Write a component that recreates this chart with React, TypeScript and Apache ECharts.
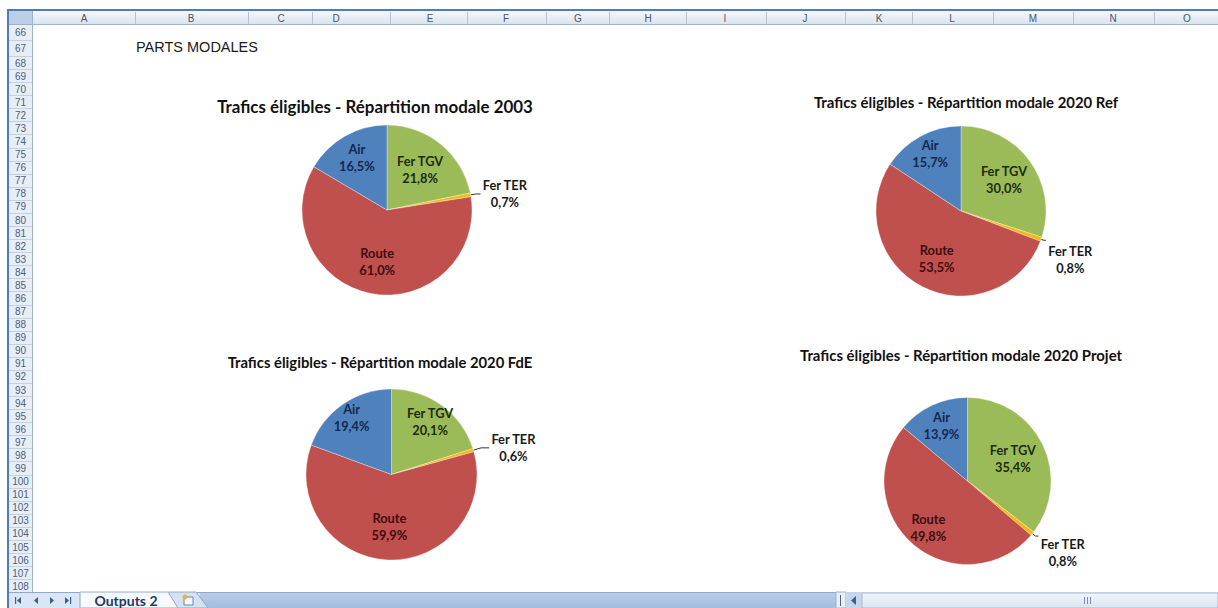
import React, { useEffect, useRef } from "react";
import * as echarts from "echarts";

// ---------------- data ----------------
const CATEGORIES = ["Fer TGV", "Fer TER", "Route", "Air"];
const SHARES_2003 = [21.8, 0.7, 61.0, 16.5];
const SHARES_2020_REF = [30.0, 0.8, 53.5, 15.7];
const SHARES_2020_FDE = [20.1, 0.6, 59.9, 19.4];
const SHARES_2020_PROJET = [35.4, 0.8, 49.8, 13.9];
const CHART_TITLES = [
  "Trafics éligibles - Répartition modale 2003",
  "Trafics éligibles - Répartition modale 2020 Ref",
  "Trafics éligibles - Répartition modale 2020 FdE",
  "Trafics éligibles - Répartition modale 2020 Projet",
];
const SHEET_HEADING = "PARTS MODALES";
const SHEET_TAB = "Outputs 2";
const COLUMN_LETTERS = ["A", "B", "C", "D", "E", "F", "G", "H", "I", "J", "K", "L", "M", "N", "O"];
const ROW_NUMBERS = [
  66, 67, 68, 69, 70, 71, 72, 73, 74, 75, 76, 77, 78, 79, 80, 81, 82, 83, 84, 85, 86, 87,
  88, 89, 90, 91, 92, 93, 94, 95, 96, 97, 98, 99, 100, 101, 102, 103, 104, 105, 106, 107, 108,
];
const ALL_SHARES = [SHARES_2003, SHARES_2020_REF, SHARES_2020_FDE, SHARES_2020_PROJET];

// ---------------- layout & style ----------------
const W = 1218;
const H = 608;
const SLICE_COLORS: Record<string, string> = {
  "Fer TGV": "#9BBB59",
  "Fer TER": "#F5B80E",
  Route: "#C0504D",
  Air: "#4F81BD",
};
const LABEL_COLORS: Record<string, string> = {
  "Fer TGV": "#1d2b10",
  "Fer TER": "#1a1a1a",
  Route: "#3d0d0d",
  Air: "#14284d",
};
const PIE_LAYOUT = [
  { cx: 387, cy: 210, r: 85, tx: 375, ty: 108, ts: 16.9, len: 5, len2: 5, dy: 0, ratio: { "Fer TGV": 0.58, Route: 0.58, Air: 0.68 } },
  { cx: 961, cy: 211, r: 85, tx: 966, ty: 104, ts: 14.9, len: 3, len2: 2, dy: 19, ratio: { "Fer TGV": 0.59, Route: 0.59, Air: 0.73 } },
  { cx: 391.5, cy: 474.5, r: 85.5, tx: 380, ty: 364, ts: 14.8, len: 8, len2: 8, dy: 0, ratio: { "Fer TGV": 0.73, Route: 0.57, Air: 0.78 } },
  { cx: 967.5, cy: 481, r: 83.5, tx: 961, ty: 357, ts: 14.9, len: 4, len2: 3, dy: 16, ratio: { "Fer TGV": 0.57, Route: 0.69, Air: 0.7 } },
];
const COL_BOUNDS = [32, 135, 248, 312, 390, 467, 546, 609, 686, 766, 845, 912, 993, 1073, 1154];
const COL_CENTERS = [84, 191, 281, 336, 430, 506, 578, 648, 725, 805, 879, 952, 1033, 1113, 1187];
const LABEL_FONT = "Lato";

const fmt = (v: number) => v.toFixed(1).replace(".", ",") + "%";

function buildGraphic() {
  const g: any[] = [];
  const headerGrad = {
    type: "linear", x: 0, y: 0, x2: 0, y2: 1,
    colorStops: [
      { offset: 0, color: "#f5f8fc" },
      { offset: 1, color: "#d9e3ef" },
    ],
  };
  // column header
  g.push({ type: "rect", shape: { x: 9, y: 11, width: W - 9, height: 13 }, style: { fill: headerGrad } });
  COL_BOUNDS.forEach((b) =>
    g.push({ type: "line", shape: { x1: b + 0.5, y1: 12, x2: b + 0.5, y2: 24 }, style: { stroke: "#b4c4d8", lineWidth: 1 } })
  );
  COLUMN_LETTERS.forEach((l, i) =>
    g.push({
      type: "text", x: COL_CENTERS[i], y: 18,
      style: { text: l, align: "center", verticalAlign: "middle", font: "10px 'Liberation Sans'", fill: "#4a5566" },
    })
  );
  g.push({ type: "line", shape: { x1: 9, y1: 24.5, x2: W, y2: 24.5 }, style: { stroke: "#9db3cd", lineWidth: 1 } });
  // corner
  g.push({ type: "rect", shape: { x: 9, y: 11, width: 23, height: 13 }, style: { fill: "#bccfe7" } });
  // row header
  g.push({ type: "rect", shape: { x: 9, y: 25, width: 23, height: 567 }, style: { fill: "#e7eef7" } });
  let y = 24;
  ROW_NUMBERS.forEach((n, i) => {
    const h = i < 2 ? 16 : 13.08;
    g.push({
      type: "text", x: 20.5, y: y + h / 2 + 0.5,
      style: { text: String(n), align: "center", verticalAlign: "middle", font: "10px 'Liberation Sans'", fill: "#4f6078" },
    });
    y += h;
    g.push({ type: "line", shape: { x1: 9, y1: Math.round(y) + 0.5, x2: 32, y2: Math.round(y) + 0.5 }, style: { stroke: "#c3d1e2", lineWidth: 1 } });
  });
  g.push({ type: "line", shape: { x1: 32.5, y1: 11, x2: 32.5, y2: 592 }, style: { stroke: "#9db3cd", lineWidth: 1 } });
  // frame border
  g.push({ type: "line", shape: { x1: 7, y1: 10, x2: W, y2: 10 }, style: { stroke: "#4d7cbc", lineWidth: 2 } });
  g.push({ type: "line", shape: { x1: 8, y1: 9, x2: 8, y2: H }, style: { stroke: "#4d7cbc", lineWidth: 2 } });
  // sheet heading
  g.push({
    type: "text", x: 136, y: 47,
    style: { text: SHEET_HEADING, align: "left", verticalAlign: "middle", font: "14.5px 'Liberation Sans'", fill: "#1a1a1a" },
  });
  // tab bar
  g.push({ type: "rect", shape: { x: 9, y: 592, width: W - 9, height: 16 }, style: { fill: "#dbe6f4" } });
  g.push({
    type: "rect", shape: { x: 200, y: 592, width: 636, height: 16 },
    style: {
      fill: { type: "linear", x: 0, y: 0, x2: 0, y2: 1, colorStops: [{ offset: 0, color: "#b9cde8" }, { offset: 1, color: "#a3bde0" }] },
    },
  });
  g.push({ type: "line", shape: { x1: 9, y1: 592.5, x2: 836, y2: 592.5 }, style: { stroke: "#8fa9cc", lineWidth: 1 } });
  // nav arrows
  const arrowColor = "#3d5f8f";
  g.push({ type: "rect", shape: { x: 15, y: 597, width: 1.2, height: 7 }, style: { fill: arrowColor } });
  g.push({ type: "polygon", shape: { points: [[17, 600.5], [21, 597], [21, 604]] }, style: { fill: arrowColor } });
  g.push({ type: "polygon", shape: { points: [[34, 600.5], [38, 597], [38, 604]] }, style: { fill: arrowColor } });
  g.push({ type: "polygon", shape: { points: [[54, 600.5], [50, 597], [50, 604]] }, style: { fill: arrowColor } });
  g.push({ type: "polygon", shape: { points: [[69, 600.5], [65, 597], [65, 604]] }, style: { fill: arrowColor } });
  g.push({ type: "rect", shape: { x: 70, y: 597, width: 1.2, height: 7 }, style: { fill: arrowColor } });
  // new sheet tab
  g.push({
    type: "polygon", shape: { points: [[168, 592], [196, 592], [208, 608], [176, 608]] },
    style: { fill: "#d6e2f2", stroke: "#8fa9cc", lineWidth: 1 },
  });
  g.push({ type: "rect", shape: { x: 184, y: 597, width: 9, height: 8 }, style: { fill: "#f6f8fb", stroke: "#6c86ab", lineWidth: 1 } });
  g.push({ type: "circle", shape: { cx: 185, cy: 597, r: 2.5 }, style: { fill: "#e8b34a" } });
  // active tab
  g.push({
    type: "polygon", shape: { points: [[80, 592], [168, 592], [178, 608], [80, 608]] },
    style: { fill: "#f7f9fc", stroke: "#8fa9cc", lineWidth: 1 },
  });
  g.push({
    type: "text", x: 126, y: 600,
    style: { text: SHEET_TAB, align: "center", verticalAlign: "middle", font: "bold 14px Lato", fill: "#1f3a63" },
  });
  // splitter + scroll bar
  g.push({ type: "rect", shape: { x: 836, y: 592, width: 10, height: 16 }, style: { fill: "#e9eff7", stroke: "#9fb3cc", lineWidth: 1 } });
  g.push({ type: "line", shape: { x1: 840.5, y1: 595, x2: 840.5, y2: 606 }, style: { stroke: "#50617a", lineWidth: 1 } });
  g.push({ type: "rect", shape: { x: 846, y: 592, width: 16, height: 16 }, style: { fill: "#c6d6eb" } });
  g.push({ type: "polygon", shape: { points: [[851, 600.5], [856, 596], [856, 605]] }, style: { fill: "#3d5f8f" } });
  g.push({
    type: "rect", shape: { x: 862, y: 593, width: W - 862, height: 15 },
    style: {
      fill: { type: "linear", x: 0, y: 0, x2: 0, y2: 1, colorStops: [{ offset: 0, color: "#f1f5fa" }, { offset: 1, color: "#dae4f0" }] },
      stroke: "#a9bbd2", lineWidth: 1,
    },
  });
  [1084, 1087, 1090].forEach((x) =>
    g.push({ type: "line", shape: { x1: x + 0.5, y1: 597, x2: x + 0.5, y2: 604 }, style: { stroke: "#7b8da6", lineWidth: 1 } })
  );
  return g;
}

function buildOption() {
  const series: any[] = [];
  const titles: any[] = [];
  PIE_LAYOUT.forEach((p, ci) => {
    const shares = ALL_SHARES[ci];
    titles.push({
      text: CHART_TITLES[ci],
      left: p.tx,
      top: p.ty - p.ts * 0.62,
      textAlign: "center",
      padding: 0,
      textStyle: { fontFamily: LABEL_FONT, fontWeight: "bold", fontSize: p.ts, color: "#111" },
    });
    // main pie (draws the slices and the outside Fer TER label)
    series.push({
      type: "pie",
      center: [p.cx, p.cy],
      radius: [0, p.r],
      startAngle: 90,
      clockwise: true,
      avoidLabelOverlap: false,
      silent: true,
      itemStyle: { borderColor: "rgba(255,255,255,0.55)", borderWidth: 0.6 },
      label: { show: false },
      labelLine: { show: false },
      labelLayout: p.dy ? { dy: p.dy } : undefined,
      data: CATEGORIES.map((c, i) => ({
        name: c,
        value: shares[i],
        itemStyle: { color: SLICE_COLORS[c] },
        label:
          c === "Fer TER"
            ? {
                show: true,
                position: "outside",
                distanceToLabelLine: 2,
                formatter: (q: any) => `{t|${q.name}}\n{t|${fmt(q.value)}}`,
                rich: {
                  t: { align: "center", fontFamily: LABEL_FONT, fontWeight: "bold", fontSize: 12.8, lineHeight: 17, color: LABEL_COLORS[c] },
                },
              }
            : { show: false },
        labelLine:
          c === "Fer TER"
            ? { show: true, length: p.len, length2: p.len2, smooth: false, lineStyle: { color: "#333", width: 1 } }
            : { show: false },
      })),
    });
    // transparent overlays carrying the inside labels
    (["Fer TGV", "Route", "Air"] as const).forEach((cat) => {
      const k = (p.ratio as any)[cat] as number;
      series.push({
        type: "pie",
        center: [p.cx, p.cy],
        radius: [p.r * (2 * k - 1), p.r],
        startAngle: 90,
        clockwise: true,
        silent: true,
        emphasis: { disabled: true },
        itemStyle: { color: "rgba(0,0,0,0)", borderWidth: 0 },
        labelLine: { show: false },
        data: CATEGORIES.map((c, i) => ({
          name: c,
          value: shares[i],
          label: {
            show: c === cat,
            position: "inside",
            formatter: (q: any) => `${q.name}\n${fmt(q.value)}`,
            fontFamily: LABEL_FONT,
            fontWeight: "bold",
            fontSize: 12.8,
            lineHeight: 17,
            color: LABEL_COLORS[c],
          },
        })),
      });
    });
  });
  return {
    animation: false,
    backgroundColor: "#ffffff",
    title: titles,
    graphic: { elements: buildGraphic() },
    series,
  };
}

export default function App() {
  const ref = useRef<HTMLDivElement>(null);
  useEffect(() => {
    if (!ref.current) return;
    const chart = echarts.init(ref.current, null, { renderer: "svg", width: W, height: H });
    chart.setOption(buildOption() as any);
    return () => chart.dispose();
  }, []);
  return (
    <div
      ref={ref}
      style={{ position: "fixed", left: 0, top: 0, width: W, height: H, background: "#fff" }}
    />
  );
}
